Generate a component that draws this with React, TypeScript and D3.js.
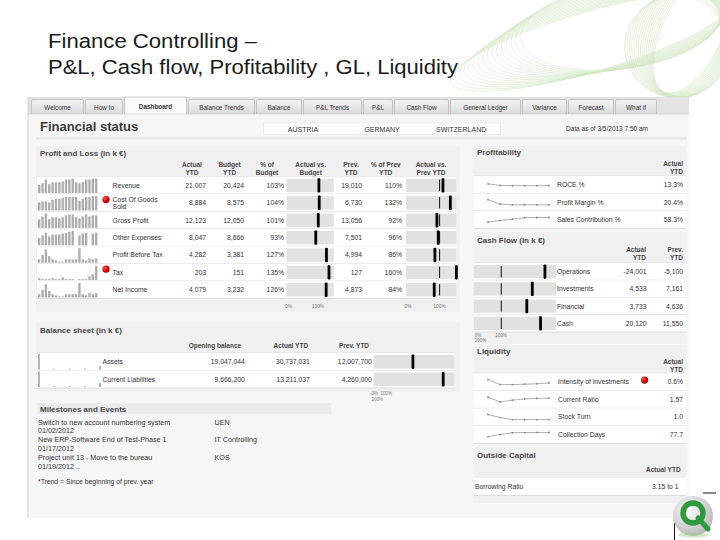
import React from "react";
import * as d3 from "d3";

const W = 720;
const H = 540;
const FONT = "'Liberation Sans', Arial, sans-serif";

const titleLines = ["Finance Controlling –", "P&L, Cash flow, Profitability , GL, Liquidity"];
const titleWidths = [209, 410];

const tabNames = ["Welcome", "How to", "Dashboard", "Balance Trends", "Balance", "P&L Trends", "P&L", "Cash Flow", "General Ledger", "Variance", "Forecast", "What if"];
const activeTab = "Dashboard";
const countries = ["AUSTRIA", "GERMANY", "SWITZERLAND"];
const dataAsOf = "Data as of 3/5/2013 7:50 am";

// Profit and Loss (in k €)
const plRows = ["Revenue", "Cost Of Goods Sold", "Gross Profit", "Other Expenses", "Profit Before Tax", "Tax", "Net Income"];
const plActual = ["21,007", "8,884", "12,123", "8,047", "4,282", "203", "4,079"];
const plBudget = ["20,424", "8,575", "12,050", "8,666", "3,381", "151", "3,232"];
const plPctBudget = [103, 104, 101, 93, 127, 135, 126];
const plPrev = ["19,010", "6,730", "13,056", "7,501", "4,994", "127", "4,873"];
const plPctPrev = [110, 132, 92, 96, 86, 160, 84];
const plAlert = [false, true, false, false, false, true, false];
const plTrend = [
  [9, 11, 15, 10, 12, 12, 12, 13, 15, 15, 16, 12, 11, 12, 15, 15, 16, 16],
  [9, 10, 10, 9, 12, 13, 13, 14, 15, 15, 15, 15, 11, 13, 15, 15, 16, 16],
  [9, 12, 15, 9, 11, 11, 10, 11, 13, 14, 14, 11, 10, 12, 14, 12, 13, 13],
  [8, 11, 14, 10, 12, 12, 12, 13, 14, 15, 16, 0, 11, 13, 14, 0, 13, 14],
  [3, 7, 12, 6, 3, 2, 1, 1, 3, 3, 3, 3, 13, 3, 2, 4, 3, 4],
  [2, 1, 1, 1, 2, 1, 1, 3, 1, 1, 1, 0, 1, 1, 1, 4, 6, 15],
  [3, 7, 12, 6, 3, 2, 1, 1, 3, 3, 3, 3, 13, 3, 2, 4, 3, 4],
];
const plHeaders = [["Actual", "YTD"], ["Budget", "YTD"], ["% of", "Budget"], ["Actual vs.", "Budget"], ["Prev.", "YTD"], ["% of Prev", "YTD"], ["Actual vs.", "Prev YTD"]];

// Balance sheet (in k €)
const bsRows = ["Assets", "Current Liabilities"];
const bsOpening = ["19,047,044", "9,666,200"];
const bsActual = ["30,737,031", "13,211,037"];
const bsPrev = ["12,007,700", "4,260,000"];
const bsVsPrev = [390, 690];
const bsTrend = [[100, 6, 6, 6, 22], [100, 6, 6, 6, 26]];
const bsHeaders = ["Opening balance", "Actual YTD", "Prev. YTD"];

// Milestones and Events
const msEvents = ["Switch to new account numbering system", "New ERP-Software End of Test-Phase 1", "Project unit 13 - Move to the bureau"];
const msDates = ["01/02/2012", "01/17/2012", "01/19/2012 .."];
const msOwners = ["UEN", "IT Controlling", "KOS"];
const footnote = "*Trend = Since beginning of prev. year";

// Profitability
const profRows = ["ROCE %", "Profit Margin %", "Sales Contribution %"];
const profValues = ["13.3%", "20.4%", "58.3%"];
const profTrend = [
  [14.2, 13.4, 13.3, 13.3, 13.3, 13.3],
  [24.5, 21.0, 20.4, 20.4, 20.4, 20.4],
  [49, 52, 55, 58, 58.3, 58.3],
];

// Cash Flow (in k €)
const cfRows = ["Operations", "Investments", "Financial", "Cash"];
const cfActual = ["-24,001", "4,533", "3,733", "20,120"];
const cfPrev = ["-5,100", "7,161", "4,636", "11,550"];
const cfVsPrev = [259, 213, 193, 243];

// Liquidity
const liqRows = ["Intensity of investments", "Current Ratio", "Stock Turn", "Collection Days"];
const liqValues = ["0.6%", "1.57", "1.0", "77.7"];
const liqAlert = [true, false, false, false];
const liqTrend = [
  [0.72, 0.6, 0.6, 0.61, 0.62, 0.64],
  [1.62, 1.35, 1.45, 1.52, 1.55, 1.57],
  [1.2, 1.08, 1.0, 1.0, 1.0, 1.0],
  [66, 72, 77, 77.5, 77.7, 77.7],
];

// Outside Capital
const ocRows = ["Borrowing Ratio"];
const ocValues = ["3.15 to 1"];

const tabWidths = [52, 37, 62, 66, 45, 58, 29, 54, 70, 44, 45, 41];

function wrap(label: string, maxChars: number) {
  const lines: string[] = [];
  let cur = "";
  label.split(" ").forEach((w) => {
    const next = cur ? cur + " " + w : w;
    if (next.length > maxChars && cur) {
      lines.push(cur);
      cur = w;
    } else cur = next;
  });
  lines.push(cur);
  return lines;
}

function SparkBars({ vals, x0, x1, top, h, pad }: any) {
  const xs = d3.scaleBand<number>().domain(d3.range(vals.length)).range([x0, x1]).paddingInner(pad);
  const ys = d3.scaleLinear().domain([0, d3.max(vals) as number]).range([0, h]);
  return (
    <g>
      {vals.map((v: number, i: number) => (
        <rect key={i} x={xs(i)} y={top + h - ys(v)} width={xs.bandwidth()} height={ys(v)} fill="#adadad" />
      ))}
    </g>
  );
}

function SparkLine({ vals, x0, x1, cy }: any) {
  const [mn, mx] = d3.extent(vals as number[]) as [number, number];
  const mid = (mn + mx) / 2;
  const half = Math.max((mx - mn) / 2, Math.abs(d3.mean(vals as number[]) as number) * 0.15);
  const xs = d3.scalePoint<number>().domain(d3.range(vals.length)).range([x0, x1]);
  const ys = d3.scaleLinear().domain([mid - half, mid + half]).range([cy + 4, cy - 4]);
  const line = d3.line<number>().x((_, i) => xs(i) as number).y((d) => ys(d));
  return (
    <g>
      <path d={line(vals) || ""} fill="none" stroke="#9a9a9a" strokeWidth={0.8} />
      {vals.map((v: number, i: number) => (
        <circle key={i} cx={xs(i)} cy={ys(v)} r={0.9} fill="#808080" />
      ))}
    </g>
  );
}

function Bullet({ scale, top, h, value, target }: any) {
  const [r0, r1] = scale.range();
  return (
    <g>
      <rect x={r0} y={top + 2} width={r1 - r0} height={h - 4} fill="#e1e1e1" />
      {target != null && <rect x={scale(target) - 0.5} y={top + 3} width={1} height={h - 6} fill="#111" />}
      <rect x={scale(value) - 1.4} y={top + 1.5} width={2.8} height={h - 3} rx={0.8} fill="#000" />
    </g>
  );
}

function Alert({ cx, cy }: any) {
  return <circle cx={cx} cy={cy} r={3.6} fill="url(#redDot)" />;
}

export default function App() {
  const txt = { fontFamily: FONT, fill: "#333" } as any;

  const tabStarts = tabWidths.map((w, i) => 31.5 + d3.sum(tabWidths.slice(0, i)) + i * 2);
  const cScale = d3.scaleBand().domain(countries).range([263.5, 500.7]);

  // P&L layout
  const plBand = d3.scaleBand().domain(plRows).range([176.7, 176.7 + 17.4 * plRows.length]);
  const plH = plBand.bandwidth();
  const budgetScale = d3.scaleLinear().domain([0, 150]).range([286.5, 333.7]).clamp(true);
  const prevScale = d3.scaleLinear().domain([0, 150]).range([406, 456.4]).clamp(true);
  const plHeaderX = [192, 229.6, 267, 310.7, 351, 385.8, 431];

  // Balance layout
  const bsBand = d3.scaleBand().domain(bsRows).range([353, 388]);
  const bsH = bsBand.bandwidth();
  const bsScale = d3.scaleLinear().domain([0, 800]).range([373.6, 454.3]).clamp(true);
  const bsHeaderX = [215, 290.8, 354];

  const msY = d3.scaleLinear().domain([0, 1]).range([424.5, 442.2]);

  // right column
  const RX0 = 473.8;
  const RX1 = 686.5;
  const profBand = d3.scaleBand().domain(profRows).range([176, 228.5]);
  const cfBand = d3.scaleBand().domain(cfRows).range([263, 332]);
  const cfScale = d3.scaleLinear().domain([0, 300]).range([RX0, 556.2]).clamp(true);
  const liqBand = d3.scaleBand().domain(liqRows).range([373.3, 443.3]);
  const ocBand = d3.scaleBand().domain(ocRows).range([478, 495.5]);

  const rowBg = (x0: number, x1: number, top: number, h: number, key: any) => (
    <g key={key}>
      <rect x={x0} y={top} width={x1 - x0} height={h} fill="#fff" />
      <line x1={x0} x2={x1} y1={top + h} y2={top + h} stroke="#d6d6d6" strokeWidth={0.8} />
    </g>
  );

  const swirl = d3.range(16);

  return (
    <svg width={W} height={H} viewBox={`0 0 ${W} ${H}`} style={{ position: "absolute", left: 0, top: 0, background: "#fff" }}>
      <defs>
        <radialGradient id="redDot" cx="35%" cy="35%" r="70%">
          <stop offset="0%" stopColor="#ff5a5a" />
          <stop offset="60%" stopColor="#d40000" />
          <stop offset="100%" stopColor="#9a0000" />
        </radialGradient>
        <linearGradient id="tabGrad" x1="0" y1="0" x2="0" y2="1">
          <stop offset="0%" stopColor="#f4f4f4" />
          <stop offset="100%" stopColor="#dadada" />
        </linearGradient>
        <radialGradient id="logoGrad" cx="40%" cy="35%" r="70%">
          <stop offset="0%" stopColor="#ffffff" />
          <stop offset="100%" stopColor="#b5b5b5" />
        </radialGradient>
      </defs>

      {/* slide decoration */}
      <g fill="none" stroke="#8cc266" strokeWidth={0.5} opacity={0.4}>
        {swirl.map((i) => (
          <ellipse key={"a" + i} cx={590 + i * 2} cy={42 - i} rx={145 - i * 3} ry={30 + i * 0.8} transform={`rotate(${-16 + i * 0.6} ${590 + i * 2} ${42 - i})`} />
        ))}
        {swirl.map((i) => (
          <ellipse key={"b" + i} cx={692 - i} cy={32 + i} rx={30 + i * 1.5} ry={66 - i} transform={`rotate(${25 - i} ${692 - i} ${32 + i})`} />
        ))}
      </g>

      {/* slide title */}
      {titleLines.map((t, i) => (
        <text key={i} x={48} y={48 + i * 26} fontFamily={FONT} fontSize={19.5} fill="#1a1a1a" textLength={titleWidths[i]} lengthAdjust="spacingAndGlyphs">{t}</text>
      ))}

      {/* dashboard background */}
      <rect x={28} y={97} width={661} height={421} fill="#f6f6f6" />
      <rect x={28} y={97} width={661} height={17} fill="#e3e3e3" />
      <line x1={28} x2={28} y1={97} y2={518} stroke="#cfcfcf" />

      {/* tabs */}
      {tabNames.map((t, i) => {
        const active = t === activeTab;
        return (
          <g key={t}>
            <path
              d={`M${tabStarts[i]},114 V${active ? 98.5 : 101} q0,-1.5 1.5,-1.5 H${tabStarts[i] + tabWidths[i] - 1.5} q1.5,0 1.5,1.5 V114`}
              fill={active ? "#fafafa" : "url(#tabGrad)"}
              stroke="#b5b5b5"
              strokeWidth={0.7}
            />
            <text x={tabStarts[i] + tabWidths[i] / 2} y={active ? 108.5 : 109.5} textAnchor="middle" fontFamily={FONT} fontSize={6.4} fontWeight={active ? "bold" : "normal"} fill="#333">{t}</text>
          </g>
        );
      })}
      <line x1={28} x2={689} y1={114} y2={114} stroke="#c8c8c8" strokeWidth={0.6} />

      {/* header */}
      <text x={40} y={131} fontFamily={FONT} fontSize={13} fontWeight="bold" fill="#3a3a3a">Financial status</text>
      <rect x={263.5} y={123} width={237.2} height={11.5} fill="#fff" stroke="#e0e0e0" strokeWidth={0.6} />
      {countries.map((c) => (
        <text key={c} x={(cScale(c) as number) + cScale.bandwidth() / 2} y={131.5} textAnchor="middle" {...txt} fontSize={7}>{c}</text>
      ))}
      <text x={566} y={131} {...txt} fontSize={6.5}>{dataAsOf}</text>
      <rect x={36} y={137.5} width={651} height={2} fill="#e3e3e3" />

      {/* Profit and Loss */}
      <rect x={36} y={146} width={424} height={166} fill="#f0f0f0" />
      <text x={40} y={155.5} {...txt} fontSize={8} fontWeight="bold" fill="#4a4a4a">Profit and Loss (in k €)</text>
      {plHeaders.map((hd, i) => (
        <g key={i}>
          {hd.map((l, j) => (
            <text key={j} x={plHeaderX[i]} y={166.5 + j * 8} textAnchor="middle" {...txt} fontSize={6.5} fontWeight="bold" fill="#474747">{l}</text>
          ))}
        </g>
      ))}
      <line x1={37} x2={456.4} y1={176.7} y2={176.7} stroke="#d6d6d6" strokeWidth={0.8} />
      {plRows.map((r, i) => {
        const top = plBand(r) as number;
        const cy = top + plH / 2;
        const lines = wrap(r, 17);
        return (
          <g key={r}>
            {rowBg(37, 456.4, top, plH, "bg")}
            <SparkBars vals={plTrend[i]} x0={38} x1={97.4} top={top + 2} h={plH - 3} pad={0.3} />
            {plAlert[i] && <Alert cx={106} cy={top + 5.5} />}
            {lines.map((l, j) => (
              <text key={j} x={112.6} y={cy + 2.4 + (j - (lines.length - 1) / 2) * 7} {...txt} fontSize={6.8}>{l}</text>
            ))}
            <text x={206} y={cy + 2.4} textAnchor="end" {...txt} fontSize={6.8}>{plActual[i]}</text>
            <text x={244} y={cy + 2.4} textAnchor="end" {...txt} fontSize={6.8}>{plBudget[i]}</text>
            <text x={284} y={cy + 2.4} textAnchor="end" {...txt} fontSize={6.8}>{plPctBudget[i]}%</text>
            <Bullet scale={budgetScale} top={top} h={plH} value={plPctBudget[i]} />
            <text x={362} y={cy + 2.4} textAnchor="end" {...txt} fontSize={6.8}>{plPrev[i]}</text>
            <text x={402} y={cy + 2.4} textAnchor="end" {...txt} fontSize={6.8}>{plPctPrev[i]}%</text>
            <Bullet scale={prevScale} top={top} h={plH} value={plPctPrev[i]} target={100} />
          </g>
        );
      })}
      {[budgetScale, prevScale].map((s, i) => (
        <g key={i} fontFamily={FONT} fontSize={4.8} fill="#777">
          <text x={s(0) + 2} y={307.5} textAnchor="middle">0%</text>
          <text x={s(100)} y={307.5} textAnchor="middle">100%</text>
        </g>
      ))}

      {/* Balance sheet */}
      <rect x={36} y={322} width={424} height={70} fill="#f0f0f0" />
      <text x={40} y={333} {...txt} fontSize={8} fontWeight="bold" fill="#4a4a4a">Balance sheet (in k €)</text>
      {bsHeaders.map((hd, i) => (
        <text key={hd} x={bsHeaderX[i]} y={347.5} textAnchor="middle" {...txt} fontSize={6.5} fontWeight="bold" fill="#474747">{hd}</text>
      ))}
      <line x1={37} x2={454.3} y1={353} y2={353} stroke="#d6d6d6" strokeWidth={0.8} />
      {bsRows.map((r, i) => {
        const top = bsBand(r) as number;
        const cy = top + bsH / 2;
        return (
          <g key={r}>
            {rowBg(37, 454.3, top, bsH, "bg")}
            <SparkBars vals={bsTrend[i]} x0={38} x1={101} top={top + 1} h={bsH - 2} pad={0.88} />
            <text x={102.6} y={cy + 2.4} {...txt} fontSize={6.8}>{r}</text>
            <text x={244.8} y={cy + 2.4} textAnchor="end" {...txt} fontSize={6.8}>{bsOpening[i]}</text>
            <text x={309.9} y={cy + 2.4} textAnchor="end" {...txt} fontSize={6.8}>{bsActual[i]}</text>
            <text x={371.9} y={cy + 2.4} textAnchor="end" {...txt} fontSize={6.8}>{bsPrev[i]}</text>
            <Bullet scale={bsScale} top={top} h={bsH} value={bsVsPrev[i]} />
          </g>
        );
      })}
      <g fontFamily={FONT} fontSize={4.5} fill="#777">
        <text x={bsScale(0) - 2} y={395}>0%</text>
        <text x={bsScale(0) + 7} y={395}>100%</text>
        <text x={bsScale(0) - 2} y={400.5}>200%</text>
      </g>

      {/* Milestones */}
      <rect x={37.5} y={403} width={294} height={11} fill="#ebebeb" />
      <text x={40} y={411.5} {...txt} fontSize={8} fontWeight="bold" fill="#4a4a4a">Milestones and Events</text>
      {msEvents.map((e, i) => {
        const y = msY(i);
        return (
          <g key={i}>
            <text x={38} y={y} {...txt} fontSize={7.2}>{e}</text>
            <text x={38} y={y + 8.9} {...txt} fontSize={7.2}>{msDates[i]}</text>
            <text x={214.5} y={y} {...txt} fontSize={7.2}>{msOwners[i]}</text>
          </g>
        );
      })}
      <text x={38} y={484} {...txt} fontSize={6.8}>{footnote}</text>

      {/* Profitability */}
      <rect x={RX0} y={146} width={RX1 - RX0} height={84} fill="#f0f0f0" />
      <text x={477} y={155} {...txt} fontSize={8} fontWeight="bold" fill="#4a4a4a">Profitability</text>
      <text x={683} y={165.5} textAnchor="end" {...txt} fontSize={6.5} fontWeight="bold" fill="#474747">Actual</text>
      <text x={683} y={173.5} textAnchor="end" {...txt} fontSize={6.5} fontWeight="bold" fill="#474747">YTD</text>
      <line x1={RX0} x2={RX1} y1={176} y2={176} stroke="#d6d6d6" strokeWidth={0.8} />
      {profRows.map((r, i) => {
        const top = profBand(r) as number;
        const h = profBand.bandwidth();
        const cy = top + h / 2;
        return (
          <g key={r}>
            {rowBg(RX0, RX1, top, h, "bg")}
            <SparkLine vals={profTrend[i]} x0={488} x1={549} cy={cy} />
            <text x={557} y={cy + 2.4} {...txt} fontSize={6.8}>{r}</text>
            <text x={683} y={cy + 2.4} textAnchor="end" {...txt} fontSize={6.8}>{profValues[i]}</text>
          </g>
        );
      })}

      {/* Cash Flow */}
      <rect x={RX0} y={232} width={RX1 - RX0} height={112} fill="#f0f0f0" />
      <text x={477} y={242.5} {...txt} fontSize={8} fontWeight="bold" fill="#4a4a4a">Cash Flow (in k €)</text>
      {[["Actual", "YTD", 646], ["Prev.", "YTD", 683]].map(([a, b, x]: any) => (
        <g key={a}>
          <text x={x} y={251.5} textAnchor="end" {...txt} fontSize={6.5} fontWeight="bold" fill="#474747">{a}</text>
          <text x={x} y={259.5} textAnchor="end" {...txt} fontSize={6.5} fontWeight="bold" fill="#474747">{b}</text>
        </g>
      ))}
      <line x1={RX0} x2={RX1} y1={263} y2={263} stroke="#d6d6d6" strokeWidth={0.8} />
      {cfRows.map((r, i) => {
        const top = cfBand(r) as number;
        const h = cfBand.bandwidth();
        const cy = top + h / 2;
        return (
          <g key={r}>
            {rowBg(RX0, RX1, top, h, "bg")}
            <Bullet scale={cfScale} top={top} h={h} value={cfVsPrev[i]} target={100} />
            <text x={557} y={cy + 2.4} {...txt} fontSize={6.8}>{r}</text>
            <text x={646.5} y={cy + 2.4} textAnchor="end" {...txt} fontSize={6.8}>{cfActual[i]}</text>
            <text x={683} y={cy + 2.4} textAnchor="end" {...txt} fontSize={6.8}>{cfPrev[i]}</text>
          </g>
        );
      })}
      <g fontFamily={FONT} fontSize={4.5} fill="#777">
        <text x={cfScale(0) + 1} y={336.5}>0%</text>
        <text x={cfScale(100) - 6} y={336.5}>100%</text>
        <text x={cfScale(0) + 1} y={342}>200%</text>
      </g>

      {/* Liquidity */}
      <rect x={RX0} y={345} width={RX1 - RX0} height={100} fill="#f0f0f0" />
      <text x={477} y={353.5} {...txt} fontSize={8} fontWeight="bold" fill="#4a4a4a">Liquidity</text>
      <text x={683} y={363.5} textAnchor="end" {...txt} fontSize={6.5} fontWeight="bold" fill="#474747">Actual</text>
      <text x={683} y={371.5} textAnchor="end" {...txt} fontSize={6.5} fontWeight="bold" fill="#474747">YTD</text>
      <line x1={RX0} x2={RX1} y1={373.3} y2={373.3} stroke="#d6d6d6" strokeWidth={0.8} />
      {liqRows.map((r, i) => {
        const top = liqBand(r) as number;
        const h = liqBand.bandwidth();
        const cy = top + h / 2;
        return (
          <g key={r}>
            {rowBg(RX0, RX1, top, h, "bg")}
            <SparkLine vals={liqTrend[i]} x0={488} x1={549} cy={cy} />
            <text x={558} y={cy + 2.4} {...txt} fontSize={6.8}>{r}</text>
            {liqAlert[i] && <Alert cx={644.6} cy={cy - 2} />}
            <text x={683} y={cy + 2.4} textAnchor="end" {...txt} fontSize={6.8}>{liqValues[i]}</text>
          </g>
        );
      })}

      {/* Outside Capital */}
      <rect x={RX0} y={447} width={RX1 - RX0} height={56} fill="#f0f0f0" />
      <text x={477} y={457.5} {...txt} fontSize={8} fontWeight="bold" fill="#4a4a4a">Outside Capital</text>
      <text x={680.6} y={471.5} textAnchor="end" {...txt} fontSize={6.5} fontWeight="bold" fill="#474747">Actual YTD</text>
      {ocRows.map((r, i) => {
        const top = ocBand(r) as number;
        const h = ocBand.bandwidth();
        const cy = top + h / 2;
        return (
          <g key={r}>
            {rowBg(RX0, RX1, top, h, "bg")}
            <text x={475} y={cy + 2.4} {...txt} fontSize={6.8}>{r}</text>
            <text x={678.5} y={cy + 2.4} textAnchor="end" {...txt} fontSize={6.8}>{ocValues[i]}</text>
          </g>
        );
      })}

      {/* slide logo */}
      <line x1={703} x2={716} y1={493} y2={493} stroke="#111" strokeWidth={1} />
      <line x1={674.5} x2={674.5} y1={520} y2={540} stroke="#111" strokeWidth={1} />
      <circle cx={693} cy={516} r={20} fill="url(#logoGrad)" />
      <circle cx={693} cy={513} r={10} fill="none" stroke="#2e9a3c" strokeWidth={5.5} />
      <path d="M698,518 L708,529" stroke="#2e9a3c" strokeWidth={5} strokeLinecap="round" />
      <ellipse cx={693} cy={535} rx={15} ry={2.5} fill="#9fd08a" opacity={0.5} />
    </svg>
  );
}
